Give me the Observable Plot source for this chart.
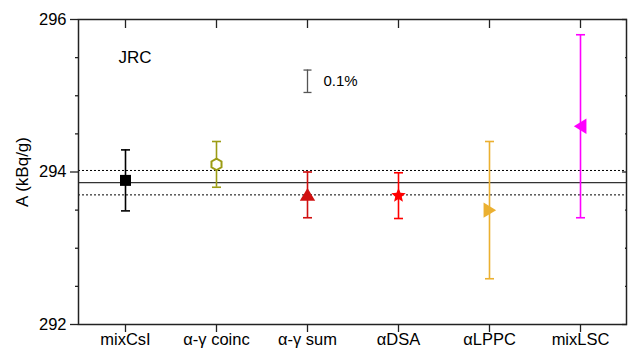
<!DOCTYPE html>
<html>
<head>
<meta charset="utf-8">
<script src="https://cdn.jsdelivr.net/npm/d3@7"></script>
<script src="https://cdn.jsdelivr.net/npm/@observablehq/plot@0.6"></script>
<style>
  html, body { margin: 0; padding: 0; background: #fff; }
  #chart svg { display: block; }
</style>
</head>
<body>
<div id="chart"></div>
<script>
// Activity concentration by measurement method
const methods = ["mixCsI", "α-γ coinc", "α-γ sum", "αDSA", "αLPPC", "mixLSC"];
const activity = [293.89, 294.10, 293.70, 293.69, 293.50, 294.60];
const uncertainty = [0.40, 0.30, 0.30, 0.30, 0.90, 1.20];
const colors = ["#000000", "#9c9c14", "#d01010", "#ff0000", "#ebb030", "#ff00ff"];

// Reference value and its band
const refValue = [293.86];
const refBand = [294.02, 293.70];

// 0.1 % scale bar placed at the "α-γ sum" column
const scaleCenter = [295.19];
const scaleHalf = [0.147];

const yMajor = [292, 294, 296];
const yMinor = [292.5, 293, 293.5, 294.5, 295, 295.5];

// Custom marker shapes (r is the nominal radius Plot passes as size = πr²)
const tri = (dir) => ({
  draw(ctx, size) {
    const r = Math.sqrt(size / Math.PI);
    if (dir === "right") {
      ctx.moveTo(-r * 0.85, -r * 1.1); ctx.lineTo(r * 0.95, 0); ctx.lineTo(-r * 0.85, r * 1.1);
    } else if (dir === "left") {
      ctx.moveTo(r * 0.85, -r * 1.1); ctx.lineTo(-r * 0.95, 0); ctx.lineTo(r * 0.85, r * 1.1);
    } else {
      ctx.moveTo(0, -r * 1.0); ctx.lineTo(r * 1.1, r * 0.85); ctx.lineTo(-r * 1.1, r * 0.85);
    }
    ctx.closePath();
  }
});
const square = { draw(ctx, size) { const r = Math.sqrt(size / Math.PI); ctx.rect(-r, -r, 2 * r, 2 * r); } };
const hexagon = {
  draw(ctx, size) {
    const r = Math.sqrt(size / Math.PI);
    for (let i = 0; i < 6; ++i) {
      const a = Math.PI / 2 + i * Math.PI / 3;
      const px = r * Math.cos(a), py = r * Math.sin(a);
      if (i === 0) ctx.moveTo(px, py); else ctx.lineTo(px, py);
    }
    ctx.closePath();
  }
};
const star = {
  draw(ctx, size) {
    const r = Math.sqrt(size / Math.PI), ri = r * 0.45;
    for (let i = 0; i < 10; ++i) {
      const a = -Math.PI / 2 + i * Math.PI / 5;
      const rr = i % 2 ? ri : r;
      const px = rr * Math.cos(a), py = rr * Math.sin(a);
      if (i === 0) ctx.moveTo(px, py); else ctx.lineTo(px, py);
    }
    ctx.closePath();
  }
};
const cap = { draw(ctx, size) { const r = Math.sqrt(size / Math.PI); ctx.moveTo(-r, 0); ctx.lineTo(r, 0); } };

const symbols = [square, hexagon, tri("up"), star, tri("right"), tri("left")];
const radii = [5.5, 5.8, 7.0, 7.6, 7.0, 7.0];

const rows = methods.map((m, i) => ({
  method: m, value: activity[i], lo: activity[i] - uncertainty[i], hi: activity[i] + uncertainty[i],
  color: colors[i], symbol: symbols[i], r: radii[i], hollow: i === 1
}));
const caps = rows.flatMap(d => [{method: d.method, y: d.lo, color: d.color}, {method: d.method, y: d.hi, color: d.color}]);
const scaleBar = scaleCenter.map((c, i) => ({method: "α-γ sum", lo: c - scaleHalf[i], hi: c + scaleHalf[i], mid: c}));

const font = "Liberation Sans, Arial, Helvetica, sans-serif";
const axisStroke = {stroke: "#222", strokeWidth: 1.3};

const chart = Plot.plot({
  width: 628,
  height: 350,
  marginLeft: 78,
  marginRight: 2,
  marginTop: 19,
  marginBottom: 26,
  style: {fontFamily: font, fontSize: "16px", color: "#000", background: "#fff"},
  x: {type: "point", domain: methods, padding: 0.48, axis: null},
  y: {domain: [292, 296], axis: null},
  r: {type: "identity"},
  symbol: {type: "identity"},
  marks: [
    // reference value and band
    Plot.ruleY(refBand, {stroke: "#000", strokeWidth: 1, strokeDasharray: "2,2"}),
    Plot.ruleY(refValue, {stroke: "#333", strokeWidth: 1.3}),
    // axes
    Plot.axisY(yMajor, {anchor: "left", tickSize: 8, tickPadding: 4, tickFormat: d3.format("d"), label: null, fontSize: 16.5, ...axisStroke}),
    Plot.axisY(yMinor, {anchor: "left", tickSize: 3, text: null, label: null, ...axisStroke}),
    Plot.axisY(yMajor, {anchor: "right", tickSize: 5, dx: -5, text: null, label: null, ...axisStroke}),
    Plot.axisY(yMinor, {anchor: "right", tickSize: 2, dx: -2, text: null, label: null, ...axisStroke}),
    Plot.axisX({anchor: "bottom", tickSize: 8, tickPadding: 1, label: null, fontSize: 16.5, ...axisStroke}),
    Plot.axisX({anchor: "top", tickSize: 8, dy: 8, text: null, label: null, ...axisStroke}),
    Plot.frame({stroke: "#222", strokeWidth: 1.5}),
    // y-axis title, centred on the frame's vertical middle
    Plot.text(["A (kBq/g)"], {y: () => 294, frameAnchor: "left", dx: -56, rotate: -90, textAnchor: "middle", fontSize: 17, fill: "#000"}),
    // error bars
    Plot.ruleX(rows, {x: "method", y1: "lo", y2: "hi", stroke: "color", strokeWidth: 1.6}),
    Plot.dot(caps, {x: "method", y: "y", symbol: cap, r: 4.5, stroke: "color", strokeWidth: 1.6, fill: "none"}),
    // markers
    Plot.dot(rows.filter(d => !d.hollow), {x: "method", y: "value", symbol: "symbol", r: "r", fill: "color", stroke: "none"}),
    Plot.dot(rows.filter(d => d.hollow), {x: "method", y: "value", symbol: "symbol", r: "r", fill: "#fff", stroke: "color", strokeWidth: 2}),
    // 0.1 % scale bar
    Plot.ruleX(scaleBar, {x: "method", y1: "lo", y2: "hi", stroke: "#555", strokeWidth: 1.3}),
    Plot.dot(scaleBar.flatMap(d => [{method: d.method, y: d.lo}, {method: d.method, y: d.hi}]), {x: "method", y: "y", symbol: cap, r: 4, stroke: "#555", strokeWidth: 1.3, fill: "none"}),
    Plot.text(scaleBar, {x: "method", y: "mid", text: () => "0.1%", dx: 16, textAnchor: "start", fontSize: 15, fill: "#000"}),
    // lab label
    Plot.text(["JRC"], {x: () => "mixCsI", y: () => 295.5, dx: -7, textAnchor: "start", fontSize: 17, fill: "#000"})
  ]
});
document.getElementById("chart").appendChild(chart);
</script>
</body>
</html>
